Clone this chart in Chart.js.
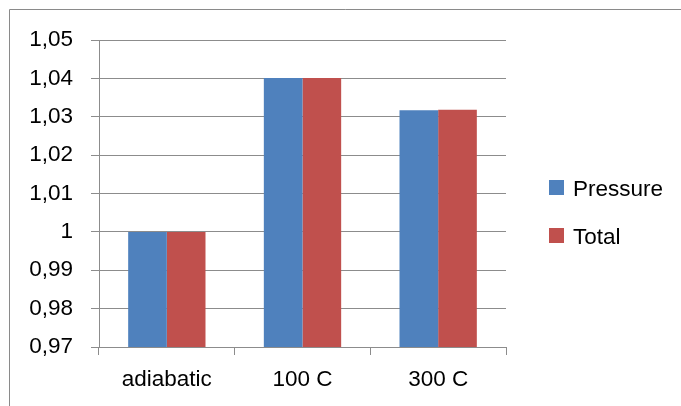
<!DOCTYPE html>
<html>
<head>
<meta charset="utf-8">
<script src="https://cdn.jsdelivr.net/npm/chart.js@4"></script>
<style>
  html, body { margin: 0; padding: 0; background: #fff; }
  #wrap { position: relative; width: 681px; height: 406px; }
</style>
</head>
<body>
<div id="wrap"><canvas id="chart" width="681" height="406"></canvas></div>
<script>
// Ratios per case
const categories = ['adiabatic', '100 C', '300 C'];
const pressure = [1.0, 1.0401, 1.0317];
const total = [1.0, 1.0401, 1.0318];
const seriesNames = ['Pressure', 'Total'];
const yTicks = [0.97, 0.98, 0.99, 1.0, 1.01, 1.02, 1.03, 1.04, 1.05];

const FONT = '"Liberation Sans", Arial, sans-serif';
const FONT_SIZE = 22.5;
const GRID = '#8c8c8c';
const TEXT = '#000000';

// Outer frame line (top and left edges)
const framePlugin = {
  id: 'frame',
  beforeDraw(chart) {
    const ctx = chart.ctx;
    ctx.save();
    ctx.strokeStyle = '#8a8a8a';
    ctx.lineWidth = 1;
    ctx.beginPath();
    ctx.moveTo(9.5, chart.height + 5);
    ctx.lineTo(9.5, 9.5);
    ctx.lineTo(chart.width + 5, 9.5);
    ctx.stroke();
    ctx.restore();
  }
};

// Legend column at the right, built from the datasets
const sideLegend = {
  id: 'sideLegend',
  afterDraw(chart, args, opts) {
    const ctx = chart.ctx;
    ctx.save();
    ctx.font = opts.fontSize + 'px ' + FONT;
    ctx.textBaseline = 'alphabetic';
    chart.data.datasets.forEach((ds, i) => {
      const cy = opts.top + i * opts.spacing;
      ctx.fillStyle = ds.backgroundColor;
      ctx.fillRect(opts.x, cy - opts.box / 2, opts.box, opts.box);
      ctx.fillStyle = TEXT;
      ctx.fillText(ds.label, opts.x + opts.box + opts.gap, cy + opts.fontSize * 0.36);
    });
    ctx.restore();
  }
};

new Chart(document.getElementById('chart'), {
  type: 'bar',
  data: {
    labels: categories,
    datasets: [
      { label: seriesNames[0], data: pressure, backgroundColor: '#4F81BD' },
      { label: seriesNames[1], data: total, backgroundColor: '#C0504D' }
    ]
  },
  options: {
    responsive: false,
    animation: false,
    layout: { padding: { left: 0, top: 40, right: 175, bottom: 0 } },
    datasets: {
      bar: { categoryPercentage: 0.57, barPercentage: 1.0 }
    },
    plugins: {
      legend: { display: false },
      tooltip: { enabled: false },
      sideLegend: { x: 549, top: 187.5, spacing: 48, box: 15, gap: 9, fontSize: FONT_SIZE }
    },
    scales: {
      x: {
        grid: {
          display: true, drawOnChartArea: false, drawTicks: true,
          tickLength: 8, color: GRID, offset: true
        },
        border: { display: true, color: GRID },
        ticks: { color: TEXT, font: { family: FONT, size: FONT_SIZE }, padding: 11 },
        afterFit(scale) { scale.height = 59; }
      },
      y: {
        min: 0.97,
        max: 1.05,
        afterBuildTicks(scale) { scale.ticks = yTicks.map(v => ({ value: v })); },
        grid: { color: GRID, drawTicks: true, tickLength: 8 },
        border: { display: true, color: GRID },
        ticks: {
          color: TEXT,
          font: { family: FONT, size: FONT_SIZE },
          padding: 18,
          callback: (v) => String(Number(v.toFixed(2))).replace('.', ',')
        },
        afterFit(scale) { scale.width = 99; }
      }
    }
  },
  plugins: [framePlugin, sideLegend]
});
</script>
</body>
</html>
